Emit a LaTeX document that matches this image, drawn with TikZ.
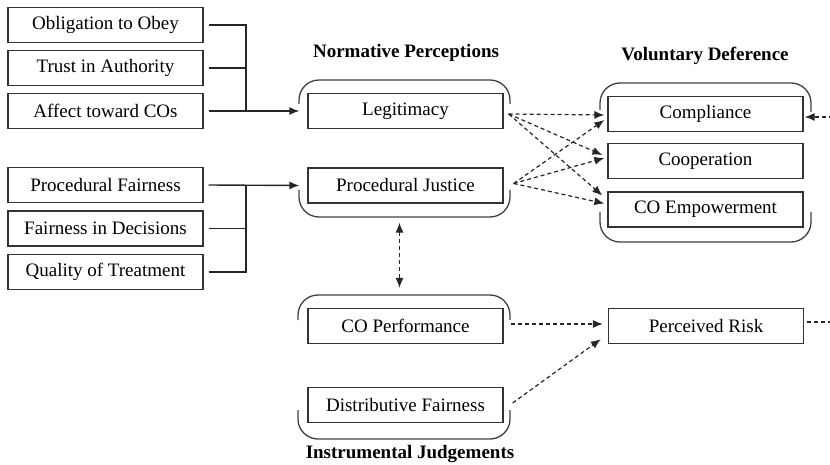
\documentclass[tikz,border=0pt]{standalone}
\usepackage{fontspec}
\setmainfont{Liberation Serif}
\usetikzlibrary{arrows.meta}

\begin{document}
\begin{tikzpicture}[x=1pt,y=-1pt,
		box/.style={draw=black!80,line width=1.3pt,minimum width=195pt,minimum height=35pt,inner sep=2pt,font=\fontsize{19}{22}\selectfont},
		head/.style={font=\fontsize{19}{22}\selectfont\bfseries},
		link/.style={line width=1.4pt,black!85},
		dasharrow/.style={line width=1.2pt,black!85,dash pattern=on 4pt off 3pt,-{Latex[length=10pt,width=8pt]}},
		brace/.style={line width=1.3pt,black!75,rounded corners=20pt}]
		\useasboundingbox (0,0) rectangle (830,465);
		% left column
		\node[box] (obl) at (105.5,25) {Obligation to Obey};
		\node[box] (trust) at (105.5,68) {Trust in Authority};
		\node[box] (affect) at (105.5,111) {Affect toward COs};
		\node[box] (procfair) at (105.5,185) {Procedural Fairness};
		\node[box] (fairdec) at (105.5,228.5) {Fairness in Decisions};
		\node[box] (quality) at (105.5,272) {Quality of Treatment};
		% normative perceptions
		\node[head] at (406,53) {Normative Perceptions};
		\node[box] (legit) at (405.5,111) {Legitimacy};
		\node[box] (procjust) at (405.5,185.5) {Procedural Justice};
		\draw[brace] (299,104) |- (510,80) -- (510,104);
		\draw[brace] (299,190) |- (510,217) -- (510,190);
		% instrumental judgements
		\node[box] (coperf) at (405.5,326) {CO Performance};
		\node[box] (distfair) at (405.5,405) {Distributive Fairness};
		\draw[brace] (298,320) |- (510,295) -- (510,320);
		\draw[brace] (298,410) |- (510,439) -- (510,410);
		\node[head] at (410,454) {Instrumental Judgements};
		% voluntary deference
		\node[head] at (705,56) {Voluntary Deference};
		\node[box] (comply) at (705.5,114) {Compliance};
		\node[box] (cooper) at (705.5,161) {Cooperation};
		\node[box] (coemp) at (705.5,209.5) {CO Empowerment};
		\draw[brace] (600,110) |- (811,83) -- (811,112);
		\draw[brace] (600,212) |- (811,242) -- (811,212);
		\node[box] (risk) at (706,326) {Perceived Risk};
		% solid connectors
		\coordinate (join1) at (246,111);
		\coordinate (join2) at (246,185);
		\draw[link] ([xshift=5pt]obl.east) -| (join1);
		\draw[link] ([xshift=5pt]trust.east) -- (trust.east -| join1);
		\draw[link,-{Latex[length=10pt,width=8pt]}] ([xshift=5pt]affect.east) -- ([xshift=-8pt]legit.west);
		\draw[link,-{Latex[length=10pt,width=8pt]}] ([xshift=5pt]procfair.east) -- ([xshift=-8pt]procjust.west);
		\draw[link] ([xshift=5pt]fairdec.east) -- (fairdec.east -| join2);
		\draw[link] ([xshift=5pt]quality.east) -| (join2);
		% dashed connectors
		\draw[dasharrow] ([xshift=5pt,yshift=-3pt]legit.east) -- ([xshift=-3pt,yshift=-1pt]comply.west);
		\draw[dasharrow] ([xshift=5pt,yshift=-3pt]legit.east) -- ([xshift=-5pt,yshift=6pt]cooper.west);
		\draw[dasharrow] ([xshift=5pt,yshift=-3pt]legit.east) -- ([xshift=-5pt,yshift=14pt]coemp.west);
		\draw[dasharrow] ([xshift=10pt,yshift=2pt]procjust.east) -- ([xshift=-3pt,yshift=-6pt]comply.west);
		\draw[dasharrow] ([xshift=10pt,yshift=2pt]procjust.east) -- ([xshift=-3pt,yshift=3pt]cooper.west);
		\draw[dasharrow] ([xshift=10pt,yshift=2pt]procjust.east) -- ([xshift=-3pt,yshift=6pt]coemp.west);
		\draw[dasharrow,{Latex[length=10pt,width=8pt]}-{Latex[length=10pt,width=8pt]}] ([xshift=-6pt,yshift=-19pt]procjust.south) -- ([xshift=-6pt,yshift=20pt]coperf.north);
		\draw[dasharrow] ([xshift=7pt,yshift=2pt]coperf.east) -- ([xshift=-5pt,yshift=2pt]risk.west);
		\draw[dasharrow] ([xshift=9pt,yshift=2pt]distfair.east) -- ([xshift=-7pt,yshift=5pt]risk.south west);
		% links leaving the frame
		\coordinate (riskout) at (840,322);
		\coordinate (compin) at (840,117);
		\draw[dasharrow,-] ([xshift=3pt,yshift=4pt]risk.east) -- (riskout);
		\draw[dasharrow] (compin) -- ([xshift=1pt,yshift=-3pt]comply.east);
	\end{tikzpicture}
\end{document}
